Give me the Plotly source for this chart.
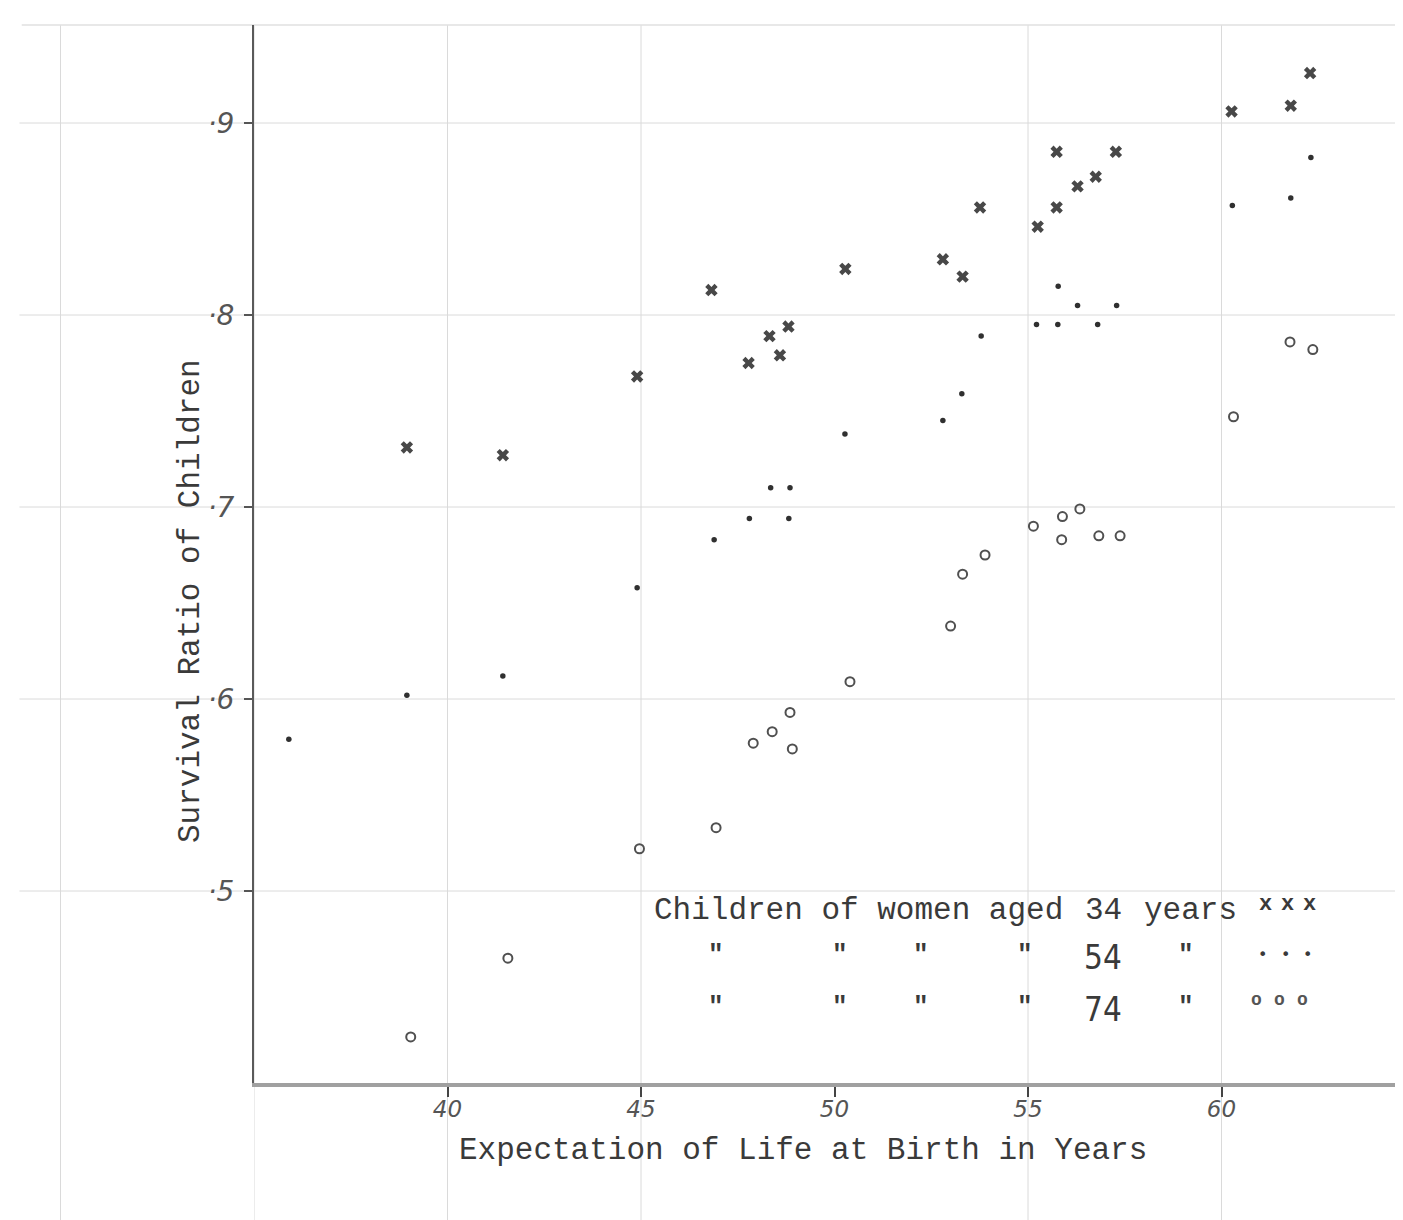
import plotly.graph_objects as go

# ---------------- data ----------------
life_exp_34 = [38.95, 41.43, 44.90, 46.82, 47.78, 48.32, 48.59, 48.81, 50.28, 52.80,
               53.31, 53.76, 55.25, 55.74, 55.74, 56.28, 56.75, 57.27, 60.26, 61.79, 62.29]
survival_34 = [0.731, 0.727, 0.768, 0.813, 0.775, 0.789, 0.779, 0.794, 0.824, 0.829,
               0.820, 0.856, 0.846, 0.856, 0.885, 0.867, 0.872, 0.885, 0.906, 0.909, 0.926]

life_exp_54 = [35.90, 38.95, 41.43, 44.90, 46.89, 47.80, 48.35, 48.85, 48.82, 50.27, 52.80,
               53.29, 53.79, 55.22, 55.77, 55.78, 56.28, 56.80, 57.29, 60.28, 61.79, 62.31]
survival_54 = [0.579, 0.602, 0.612, 0.658, 0.683, 0.694, 0.710, 0.710, 0.694, 0.738, 0.745,
               0.759, 0.789, 0.795, 0.795, 0.815, 0.805, 0.795, 0.805, 0.857, 0.861, 0.882]

life_exp_74 = [39.05, 41.56, 44.96, 46.94, 47.90, 48.39, 48.85, 48.91, 50.40, 53.00, 53.31,
               53.89, 55.14, 55.89, 56.34, 55.87, 56.83, 57.38, 60.31, 61.77, 62.36]
survival_74 = [0.424, 0.465, 0.522, 0.533, 0.577, 0.583, 0.593, 0.574, 0.609, 0.638, 0.665,
               0.675, 0.690, 0.695, 0.699, 0.683, 0.685, 0.685, 0.747, 0.786, 0.782]

x_tick_vals = [40, 45, 50, 55, 60]
x_tick_text = ["40", "45", "50", "55", "60"]
y_tick_vals = [0.5, 0.6, 0.7, 0.8, 0.9]
y_tick_text = ["·5", "·6", "·7", "·8", "·9"]
paper_grid_x = [35, 40, 45, 55, 60]
paper_grid_y = [0.5, 0.6, 0.7, 0.8, 0.9]

x_title = "Expectation of Life at Birth in Years"
y_title = "Survival Ratio of Children"
legend_head = "Children of women aged"
legend_ages = ["34", "54", "74"]

# ---------------- layout geometry (page pixels; body margin is 8px) ----------------
OFF = 8
W, H = 1403 - OFF, 1220 - OFF
ML, MR, MT, MB = 254 - OFF, 3, 25 - OFF, 137
PW, PH = W - ML - MR, H - MT - MB
X0, PX_PER_YEAR = 35.0, 38.7
Y0, PX_PER_UNIT = 0.4, 1920.0
x_range = [X0, X0 + PW / PX_PER_YEAR]
y_range = [Y0, Y0 + PH / PX_PER_UNIT]


def px(xp):
    """page pixel x -> paper fraction"""
    return (xp - OFF - ML) / PW


def py(yp):
    """page pixel y -> paper fraction"""
    return (H - MB - (yp - OFF)) / PH


MONO = "Liberation Mono, Courier New, DejaVu Sans Mono, monospace"
NARROW = "Liberation Sans Narrow, DejaVu Sans Condensed, Roboto, sans-serif"
INK = "#3a3a3a"

fig = go.Figure()

fig.add_trace(go.Scatter(
    x=life_exp_34, y=survival_34, mode="markers", name="34 years",
    marker=dict(symbol="x", size=11, color="#484848", line=dict(width=0)),
))
fig.add_trace(go.Scatter(
    x=life_exp_54, y=survival_54, mode="markers", name="54 years",
    marker=dict(symbol="circle", size=5.5, color="#303030"),
))
fig.add_trace(go.Scatter(
    x=life_exp_74, y=survival_74, mode="markers", name="74 years",
    marker=dict(symbol="circle-open", size=9, color="#505050", line=dict(width=2)),
))

GRID = dict(color="#dadada", width=1)
shapes = []
# faint graph-paper lines
for gx in paper_grid_x:
    shapes.append(dict(type="line", xref="x", yref="paper", x0=gx, x1=gx,
                       y0=-MB / PH, y1=1, line=GRID, layer="below"))
# paper line left of the axis (one grid step of 5 years to the left)
left_line = (-5 * PX_PER_YEAR) / PW
shapes.append(dict(type="line", xref="paper", yref="paper", x0=left_line, x1=left_line,
                   y0=-MB / PH, y1=1, line=GRID, layer="below"))
for gy in paper_grid_y:
    shapes.append(dict(type="line", xref="paper", yref="paper", x0=-ML / PW + 0.01, x1=1,
                       y0=(gy - Y0) * PX_PER_UNIT / PH, y1=(gy - Y0) * PX_PER_UNIT / PH,
                       line=GRID, layer="below"))
shapes.append(dict(type="line", xref="paper", yref="paper", x0=-ML / PW + 0.012, x1=1,
                   y0=1, y1=1, line=dict(color="#e0e0e0", width=1.5), layer="below"))

annotations = []
annotations.append(dict(text=x_title, xref="paper", yref="paper", x=px(803), y=py(1150),
                        xanchor="center", yanchor="middle", showarrow=False,
                        font=dict(family=MONO, size=31, color=INK)))
annotations.append(dict(text=y_title, xref="paper", yref="paper", x=px(190), y=py(601),
                        xanchor="center", yanchor="middle", showarrow=False, textangle=-90,
                        font=dict(family=MONO, size=31, color=INK)))

# legend (typed text block)
annotations.append(dict(text=legend_head, xref="paper", yref="paper", x=px(652), y=py(910),
                        xanchor="left", yanchor="middle", showarrow=False,
                        font=dict(family=MONO, size=31, color=INK)))
annotations.append(dict(text=legend_ages[0], xref="paper", yref="paper", x=px(1103), y=py(910),
                        xanchor="center", yanchor="middle", showarrow=False,
                        font=dict(family=MONO, size=31, color=INK)))
annotations.append(dict(text="years", xref="paper", yref="paper", x=px(1142), y=py(910),
                        xanchor="left", yanchor="middle", showarrow=False,
                        font=dict(family=MONO, size=31, color=INK)))
for row_y, age in [(957, legend_ages[1]), (1009, legend_ages[2])]:
    for dx in [716, 840, 921, 1025, 1186]:
        annotations.append(dict(text='"', xref="paper", yref="paper", x=px(dx), y=py(row_y - 2),
                                xanchor="center", yanchor="middle", showarrow=False,
                                font=dict(family=MONO, size=26, color=INK, weight="bold")))
    annotations.append(dict(text=age, xref="paper", yref="paper", x=px(1103), y=py(row_y),
                            xanchor="center", yanchor="middle", showarrow=False,
                            font=dict(family=NARROW, size=33, color=INK)))

for sx in [1265, 1287, 1309]:
    annotations.append(dict(text="x", xref="paper", yref="paper", x=px(sx), y=py(904),
                            xanchor="center", yanchor="middle", showarrow=False,
                            font=dict(family=MONO, size=22, color=INK, weight="bold")))
for sx in [1262, 1285, 1307]:
    annotations.append(dict(text="•", xref="paper", yref="paper", x=px(sx), y=py(954),
                            xanchor="center", yanchor="middle", showarrow=False,
                            font=dict(family="DejaVu Sans", size=16, color=INK)))
for sx in [1256, 1279, 1302]:
    annotations.append(dict(text="o", xref="paper", yref="paper", x=px(sx), y=py(1000),
                            xanchor="center", yanchor="middle", showarrow=False,
                            font=dict(family=MONO, size=18, color="#555555", weight="bold")))

fig.update_layout(
    width=W, height=H,
    margin=dict(l=ML, r=MR, t=MT, b=MB),
    paper_bgcolor="white", plot_bgcolor="white",
    showlegend=False,
    shapes=shapes,
    annotations=annotations,
    xaxis=dict(
        range=x_range, tickvals=x_tick_vals, ticktext=x_tick_text,
        showgrid=False, zeroline=False,
        showline=True, linecolor="#a0a0a0", linewidth=4,
        ticks="outside", ticklen=10, tickwidth=2, tickcolor="#444",
        ticklabelstandoff=-8,
        tickfont=dict(family="DejaVu Sans", size=23, color="#555", style="italic"),
        fixedrange=True,
    ),
    yaxis=dict(
        range=y_range, tickvals=y_tick_vals, ticktext=y_tick_text,
        showgrid=False, zeroline=False,
        showline=True, linecolor="#5a5a5a", linewidth=2,
        ticks="outside", ticklen=8, tickwidth=2, tickcolor="#555",
        ticklabelstandoff=4,
        tickfont=dict(family="DejaVu Sans", size=28, color="#555", style="italic"),
        fixedrange=True,
    ),
)

fig.write_html("out.html")
